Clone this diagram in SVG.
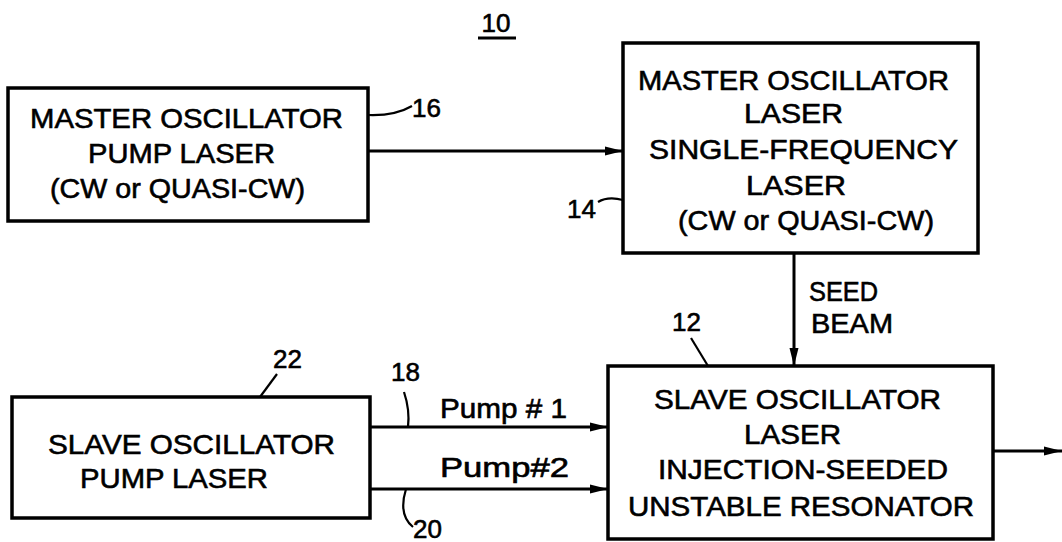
<svg xmlns="http://www.w3.org/2000/svg" width="1062" height="542" viewBox="0 0 1062 542">
<defs>
<style>
.box{fill:#fff;stroke:#000;stroke-width:3.5}
.ln{fill:none;stroke:#000;stroke-width:3}
.ld{fill:none;stroke:#000;stroke-width:2.2}
text{font-family:"Liberation Sans",Arial,sans-serif;font-size:28px;fill:#000;stroke:#000;stroke-width:0.6}
.c{text-anchor:middle}
.n{font-size:26px}
</style>
<marker id="ah" markerWidth="18" markerHeight="12" refX="18" refY="6" orient="auto" markerUnits="userSpaceOnUse">
<path d="M0,1.5 L18,6 L0,10.5 Z" fill="#000"/>
</marker>
</defs>
<rect width="1062" height="542" fill="#fff"/>
<g id="label10">
<text x="496" y="32" class="c n">10</text>
<line x1="478" y1="38" x2="516" y2="38" class="ln"/>
</g>
<g id="node16">
<rect x="8" y="88" width="360" height="133" class="box"/>
<text x="30" y="128" textLength="313" lengthAdjust="spacingAndGlyphs">MASTER OSCILLATOR</text>
<text x="88" y="163" textLength="187" lengthAdjust="spacingAndGlyphs">PUMP LASER</text>
<text x="50" y="198" textLength="255" lengthAdjust="spacingAndGlyphs">(CW or QUASI-CW)</text>
<text x="412" y="117" class="n">16</text>
</g>
<g id="node14">
<rect x="623" y="43" width="355" height="210" class="box"/>
<text x="638" y="90" textLength="311" lengthAdjust="spacingAndGlyphs">MASTER OSCILLATOR</text>
<text x="744" y="123" textLength="99" lengthAdjust="spacingAndGlyphs">LASER</text>
<text x="649" y="159" textLength="309" lengthAdjust="spacingAndGlyphs">SINGLE-FREQUENCY</text>
<text x="746" y="195" textLength="100" lengthAdjust="spacingAndGlyphs">LASER</text>
<text x="678" y="230" textLength="256" lengthAdjust="spacingAndGlyphs">(CW or QUASI-CW)</text>
<text x="567" y="218" class="n">14</text>
</g>
<g id="node12">
<rect x="608" y="366" width="385" height="173" class="box"/>
<text x="654" y="409" textLength="287" lengthAdjust="spacingAndGlyphs">SLAVE OSCILLATOR</text>
<text x="744" y="444" textLength="97" lengthAdjust="spacingAndGlyphs">LASER</text>
<text x="658" y="479" textLength="290" lengthAdjust="spacingAndGlyphs">INJECTION-SEEDED</text>
<text x="628" y="516" textLength="346" lengthAdjust="spacingAndGlyphs">UNSTABLE RESONATOR</text>
<text x="672" y="331" class="n">12</text>
</g>
<g id="node22">
<rect x="12" y="397" width="358" height="121" class="box"/>
<text x="48" y="454" textLength="287" lengthAdjust="spacingAndGlyphs">SLAVE OSCILLATOR</text>
<text x="80" y="488" textLength="188" lengthAdjust="spacingAndGlyphs">PUMP LASER</text>
<text x="273" y="368" class="n">22</text>
</g>
<g id="connectors">
<line x1="368" y1="151" x2="623" y2="151" class="ln" marker-end="url(#ah)"/>
<line x1="794" y1="253" x2="794" y2="366" class="ln" marker-end="url(#ah)"/>
<line x1="370" y1="427" x2="608" y2="427" class="ln" marker-end="url(#ah)"/>
<line x1="370" y1="489" x2="608" y2="489" class="ln" marker-end="url(#ah)"/>
<line x1="993" y1="451" x2="1062" y2="451" class="ln" marker-end="url(#ah)"/>
<text x="809" y="301" textLength="69" lengthAdjust="spacingAndGlyphs">SEED</text>
<text x="811" y="333" textLength="82" lengthAdjust="spacingAndGlyphs">BEAM</text>
<text x="440" y="418" textLength="127" lengthAdjust="spacingAndGlyphs" style="font-size:27px">Pump # 1</text>
<text x="440" y="477" textLength="129" lengthAdjust="spacingAndGlyphs" style="font-size:27px">Pump#2</text>
<text x="391" y="381" class="n">18</text>
<text x="413" y="538" class="n">20</text>
<path d="M368,115 Q395,116 412,106" class="ld"/>
<path d="M598,202 Q608,196 623,200" class="ld"/>
<path d="M691,338 L708,366" class="ld"/>
<path d="M277,374 L260,397" class="ld"/>
<path d="M404,392 Q410,410 408,427" class="ld"/>
<path d="M406,489 Q398,515 413,527" class="ld"/>
</g>
</svg>
